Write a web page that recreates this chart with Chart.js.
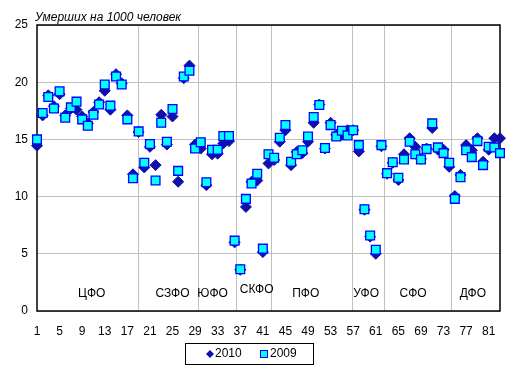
<!DOCTYPE html>
<html><head><meta charset="utf-8">
<script src="https://cdn.jsdelivr.net/npm/chart.js@4"></script>
<style>html,body{margin:0;padding:0;background:#fff;}#wrap{width:519px;height:375px;position:relative;}</style>
</head><body><div id="wrap"><canvas id="c" width="519" height="375"></canvas></div>
<script>
const categories = [1,2,3,4,5,6,7,8,9,10,11,12,13,14,15,16,17,18,19,20,21,22,23,24,25,26,27,28,29,30,31,32,33,34,35,36,37,38,39,40,41,42,43,44,45,46,47,48,49,50,51,52,53,54,55,56,57,58,59,60,61,62,63,64,65,66,67,68,69,70,71,72,73,74,75,76,77,78,79,80,81,82,83];
const xTickLabels = [1,5,9,13,17,21,25,29,33,37,41,45,49,53,57,61,65,69,73,77,81];
const yTicks = [0,5,10,15,20,25];
const v2010 = [14.45,17.1,18.85,17.9,18.95,17.1,17.7,17.6,17.0,16.4,
  17.4,18.25,19.25,17.6,20.7,19.9,17.1,11.95,15.65,12.55,
  14.35,12.75,17.15,14.55,17.0,11.3,20.35,21.45,14.55,14.2,
  11.0,13.7,13.75,14.65,14.85,6.0,3.6,9.1,11.3,11.4,
  5.15,12.9,13.2,14.8,15.8,12.75,13.9,13.8,14.8,16.45,
  18.05,14.2,16.45,15.4,15.4,15.8,15.8,13.95,8.85,6.5,
  5.0,14.4,12.0,12.95,11.45,13.7,15.1,14.35,13.3,14.2,
  16.0,14.1,14.1,12.6,10.05,11.9,14.5,14.05,15.1,13.05,
  14.1,15.1,15.1];
const v2009 = [15.0,17.3,18.7,17.7,19.2,16.9,17.8,18.3,16.75,16.2,
  17.15,18.05,19.8,17.95,20.5,19.8,16.75,11.6,15.7,12.95,
  14.6,11.4,16.45,14.8,17.65,12.25,20.5,21.0,14.2,14.75,
  11.25,14.1,14.1,15.3,15.3,6.15,3.65,9.8,11.15,12.0,
  5.45,13.7,13.4,15.15,16.25,13.05,13.7,14.05,15.25,16.95,
  18.0,14.25,16.25,15.25,15.75,15.35,15.8,14.5,8.9,6.6,
  5.35,14.5,12.05,13.0,11.65,13.25,14.8,13.7,13.25,14.15,
  16.4,14.3,13.8,12.95,9.8,11.7,14.05,13.45,14.85,12.75,
  14.35,14.3,13.8];
const districtNames = ['ЦФО','СЗФО','ЮФО','СКФО','ПФО','УФО','СФО','ДФО'];
const districtLabelX = [10.7,25.0,32.1,39.9,48.6,59.3,67.6,78.2];
const districtLabelY = [1.55,1.55,1.55,1.9,1.55,1.55,1.55,1.55];
const districtBounds = [18.9,29.6,36.2,42.5,56.7,62.5,74.3];
const seriesNames = ['2010','2009'];
const titleText = 'Умерших на 1000 человек';

const FONT = '"Liberation Sans", Arial, sans-serif';
const C2010 = '#1010A8';
const C2009F = '#00FFFF';
const C2009B = '#0000FF';

const decor = {
  id: 'decor',
  beforeDatasetsDraw(chart) {
    const {ctx, chartArea: a, scales: {x, y}} = chart;
    ctx.save();
    ctx.strokeStyle = '#C0C0C0';
    ctx.lineWidth = 1;
    districtBounds.forEach(b => {
      const px = Math.round(x.getPixelForValue(b - 1)) + 0.5;
      ctx.beginPath(); ctx.moveTo(px, a.top); ctx.lineTo(px, a.bottom); ctx.stroke();
    });
    ctx.fillStyle = '#000';
    ctx.font = '12px ' + FONT;
    ctx.textAlign = 'center'; ctx.textBaseline = 'middle';
    districtNames.forEach((n, i) => {
      ctx.fillText(n, x.getPixelForValue(districtLabelX[i] - 1), y.getPixelForValue(districtLabelY[i]));
    });
    ctx.strokeStyle = '#000';
    ctx.lineWidth = 1.5;
    ctx.strokeRect(Math.round(a.left), Math.round(a.top), Math.round(a.right - a.left), Math.round(a.bottom - a.top));
    ctx.restore();
  },
  afterDraw(chart) {
    const {ctx} = chart;
    ctx.save();
    ctx.font = 'italic 12px ' + FONT;
    ctx.fillStyle = '#000';
    ctx.textAlign = 'left'; ctx.textBaseline = 'alphabetic';
    ctx.fillText(titleText, 35, 21);
    // legend
    ctx.strokeStyle = '#000'; ctx.lineWidth = 1;
    ctx.strokeRect(185.5, 343.5, 128, 21);
    ctx.font = '12px ' + FONT;
    ctx.textBaseline = 'middle';
    const ly = 354;
    ctx.fillStyle = C2010;
    ctx.beginPath(); ctx.moveTo(210, ly - 4); ctx.lineTo(214, ly); ctx.lineTo(210, ly + 4); ctx.lineTo(206, ly); ctx.closePath(); ctx.fill();
    ctx.fillStyle = '#000';
    ctx.fillText(seriesNames[0], 215, ly);
    ctx.fillStyle = C2009F; ctx.strokeStyle = C2009B;
    ctx.fillRect(261, ly - 3, 6, 6); ctx.strokeRect(260.5, ly - 3.5, 7, 7);
    ctx.fillStyle = '#000';
    ctx.fillText(seriesNames[1], 270, ly);
    ctx.restore();
  }
};

new Chart(document.getElementById('c'), {
  type: 'line',
  data: {
    labels: categories,
    datasets: [
      {label: seriesNames[0], data: v2010, showLine: false, order: 1, clip: false,
       pointStyle: 'rectRot', pointRadius: 5.5, pointHoverRadius: 5.5,
       backgroundColor: C2010, borderColor: C2010, pointBorderWidth: 1},
      {label: seriesNames[1], data: v2009, showLine: false, order: 0, clip: false,
       pointStyle: 'rect', pointRadius: 6.2, pointHoverRadius: 6.2,
       backgroundColor: C2009F, borderColor: C2009B, pointBorderWidth: 1.3}
    ]
  },
  options: {
    responsive: false, animation: false, devicePixelRatio: 1,
    layout: {padding: {top: 25, right: 19, left: 0, bottom: 0}},
    plugins: {legend: {display: false}, tooltip: {enabled: false}, title: {display: false}},
    scales: {
      x: {
        type: 'category', offset: false,
        grid: {display: false, drawTicks: false},
        border: {display: false},
        ticks: {autoSkip: false, maxRotation: 0, minRotation: 0, padding: 13, color: '#000',
          font: {family: FONT, size: 12},
          callback: function(v, i) { const c = categories[i]; return xTickLabels.includes(c) ? String(c) : ''; }},
        afterFit(s) { s.height = 64; }
      },
      y: {
        min: 0, max: 25,
        grid: {color: '#C0C0C0', drawTicks: false},
        border: {display: false},
        afterBuildTicks(s) { s.ticks = yTicks.map(v => ({value: v})); },
        ticks: {padding: 9, color: '#000', font: {family: FONT, size: 12}},
        afterFit(s) { s.width = 37; }
      }
    }
  },
  plugins: [decor]
});
</script></body></html>
